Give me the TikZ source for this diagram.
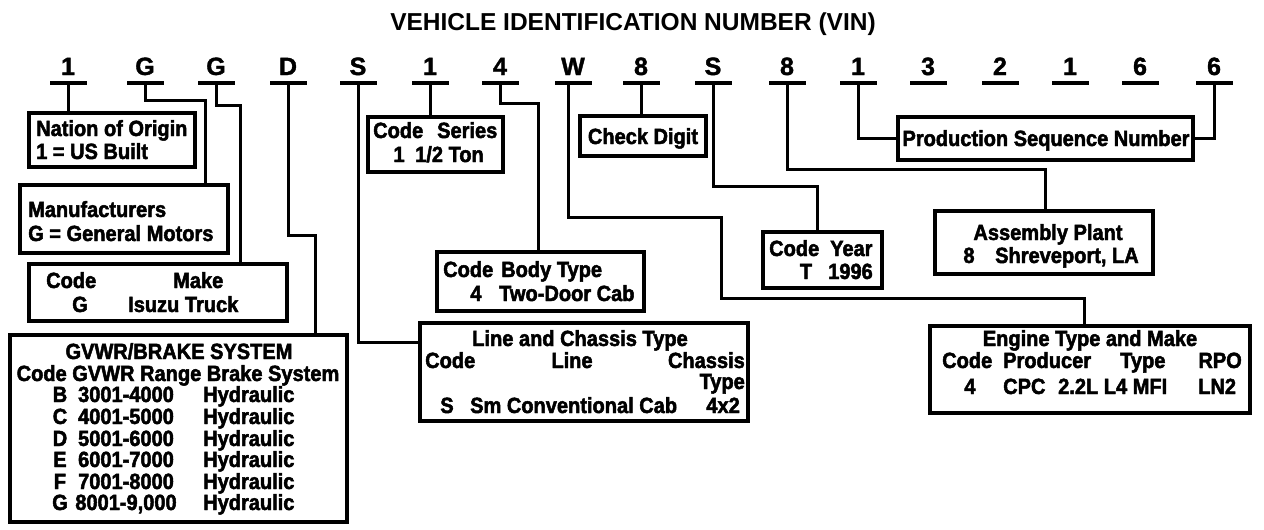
\documentclass[tikz,border=0pt]{standalone}
\usepackage{fontspec}
\setmainfont{Liberation Sans}
\newfontfamily\boxfont{Liberation Sans}[FakeStretch=0.91,FakeBold=2.2]
\newfontfamily\vinfont{Liberation Sans}[FakeBold=1.5]
\begin{document}
\begin{tikzpicture}[x=1pt,y=-1pt,
  box/.style={draw, line width=3.4pt, inner sep=0pt},
  conn/.style={line width=3pt},
  vbar/.style={fill=black, minimum width=37pt, minimum height=4.5pt, inner sep=0pt},
  vin/.style={font=\vinfont\fontsize{25}{25}\selectfont\bfseries, inner sep=0pt, anchor=base},
  ttl/.style={font=\fontsize{24.5}{25}\selectfont\bfseries, inner sep=0pt, anchor=base},
  bt/.style={font=\boxfont\fontsize{22}{22}\selectfont\bfseries, inner sep=0pt},
  bw/.style={bt, anchor=base west},
  bc/.style={bt, anchor=base},
  be/.style={bt, anchor=base east}]
\useasboundingbox (0,0) rectangle (1264,530);
\node[ttl] (title) at (633,30) {VEHICLE IDENTIFICATION NUMBER (VIN)};
% VIN characters and bars
\foreach \c/\x [count=\i] in {1/68,G/145,G/216,D/288,S/358,1/430,4/500,W/573,8/641,S/713,8/787,1/858,3/928,2/1000,1/1070,6/1140,6/1214}{
  \node[vin] (v\i) at (\x,75) {\c};
  \node[vbar] (u\i) at (\x,83) {};
}
% boxes
\node[box, minimum width=166pt, minimum height=54pt] (b1) at (112,140) {};
\node[box, minimum width=208pt, minimum height=68pt] (b2) at (124,219) {};
\node[box, minimum width=258pt, minimum height=57pt] (b3) at (158,292.5) {};
\node[box, minimum width=337pt, minimum height=187pt] (b4) at (178.5,428.5) {};
\node[box, minimum width=135pt, minimum height=55pt] (b5) at (435.5,144.5) {};
\node[box, minimum width=207pt, minimum height=59pt] (b6) at (540.5,281.5) {};
\node[box, minimum width=328pt, minimum height=98pt] (b7) at (584,372) {};
\node[box, minimum width=126pt, minimum height=40pt] (b8) at (643,136) {};
\node[box, minimum width=119pt, minimum height=56pt] (b9) at (822.5,260) {};
\node[box, minimum width=295pt, minimum height=43pt] (b10) at (1045.5,138.5) {};
\node[box, minimum width=218pt, minimum height=63pt] (b11) at (1044,242.5) {};
\node[box, minimum width=320pt, minimum height=87pt] (b12) at (1090,369.5) {};
% connectors
\draw[conn] (u1.center) -- (u1 |- b1.north);
\draw[conn] (u2.center) |- (205,100) -- (205,100 |- b2.north);
\draw[conn] (u3.center) |- (240,105) -- (240,105 |- b3.north);
\draw[conn] (u4.center) |- (315,235) -- (315,235 |- b4.north);
\draw[conn] (u5.center) |- (b7.west |- 0,342);
\draw[conn] (u6.center) -- (u6 |- b5.north);
\draw[conn] (u7.center) |- (538,103) -- (538,103 |- b6.north);
\draw[conn] ([xshift=-5pt]u8.center) |- (721,217) |- (1084,298) -- (1084,298 |- b12.north);
\draw[conn] (u9.center) -- (u9 |- b8.north);
\draw[conn] (u10.center) |- (817,186) -- (817,186 |- b9.north);
\draw[conn] (u11.center) |- (1045,169) -- (1045,169 |- b11.north);
\draw[conn] (u12.center) |- (b10.west);
\draw[conn] (u17.center) |- (b10.east);
% box texts
\node[bw] (t1a) at (36,136) {Nation of Origin};
\node[bw] (t1b) at (36,159) {1 = US Built};
\node[bw] (t2a) at (28,217) {Manufacturers};
\node[bw] (t2b) at (28,241) {G = General Motors};
\node[bw] (t3a) at (46,288) {Code};
\node[bw] (t3b) at (173,288) {Make};
\node[bc] (t3c) at (80,312) {G};
\node[bw] (t3d) at (128,312) {Isuzu Truck};
\node[bc] (t4a) at (179,359) {GVWR/BRAKE SYSTEM};
\node[bc] (t4b) at (178,381) {Code GVWR Range Brake System};
\foreach \k/\r/\y [count=\j] in {B/3001-4000/402,C/4001-5000/424,D/5001-6000/446,E/6001-7000/467,F/7001-8000/489,G/8001-9{,}000/510}{
  \node[bc] (g\j a) at (60,\y) {\k};
  \node[bc] (g\j b) at (126,\y) {\r};
  \node[bw] (g\j c) at (203,\y) {Hydraulic};
}
\node[bw] (t5a) at (373,138) {Code};
\node[bw] (t5b) at (437,138) {Series};
\node[bc] (t5c) at (399,162) {1};
\node[bw] (t5d) at (415,162) {1/2 Ton};
\node[bw] (t6a) at (443,277) {Code};
\node[bw] (t6b) at (501,277) {Body Type};
\node[bc] (t6c) at (476,301) {4};
\node[bw] (t6d) at (499,301) {Two-Door Cab};
\node[bc] (t8) at (643,144) {Check Digit};
\node[bw] (t9a) at (769,256) {Code};
\node[bw] (t9b) at (830,256) {Year};
\node[bc] (t9c) at (806,279) {T};
\node[bw] (t9d) at (828,279) {1996};
\node[bc] (t11a) at (1048,240) {Assembly Plant};
\node[bc] (t11b) at (969,263) {8};
\node[bw] (t11c) at (995,263) {Shreveport, LA};
\node[bc] (t10) at (1046,146) {Production Sequence Number};
\node[bc] (t7a) at (580,346) {Line and Chassis Type};
\node[bw] (t7b) at (425,368) {Code};
\node[bc] (t7c) at (572,368) {Line};
\node[be] (t7d) at (745,368) {Chassis};
\node[be] (t7e) at (745,389) {Type};
\node[bc] (t7f) at (447,413) {S};
\node[bw] (t7g) at (470,413) {Sm Conventional Cab};
\node[be] (t7h) at (740,413) {4x2};
\node[bc] (t12a) at (1090,346) {Engine Type and Make};
\node[bw] (t12b) at (942,368) {Code};
\node[bw] (t12c) at (1003,368) {Producer};
\node[bw] (t12d) at (1120,368) {Type};
\node[be] (t12e) at (1242,368) {RPO};
\node[bc] (t12f) at (970,394) {4};
\node[bw] (t12g) at (1003,394) {CPC};
\node[bw] (t12h) at (1058,394) {2.2L L4 MFI};
\node[bw] (t12i) at (1198,394) {LN2};
\end{tikzpicture}
\end{document}
